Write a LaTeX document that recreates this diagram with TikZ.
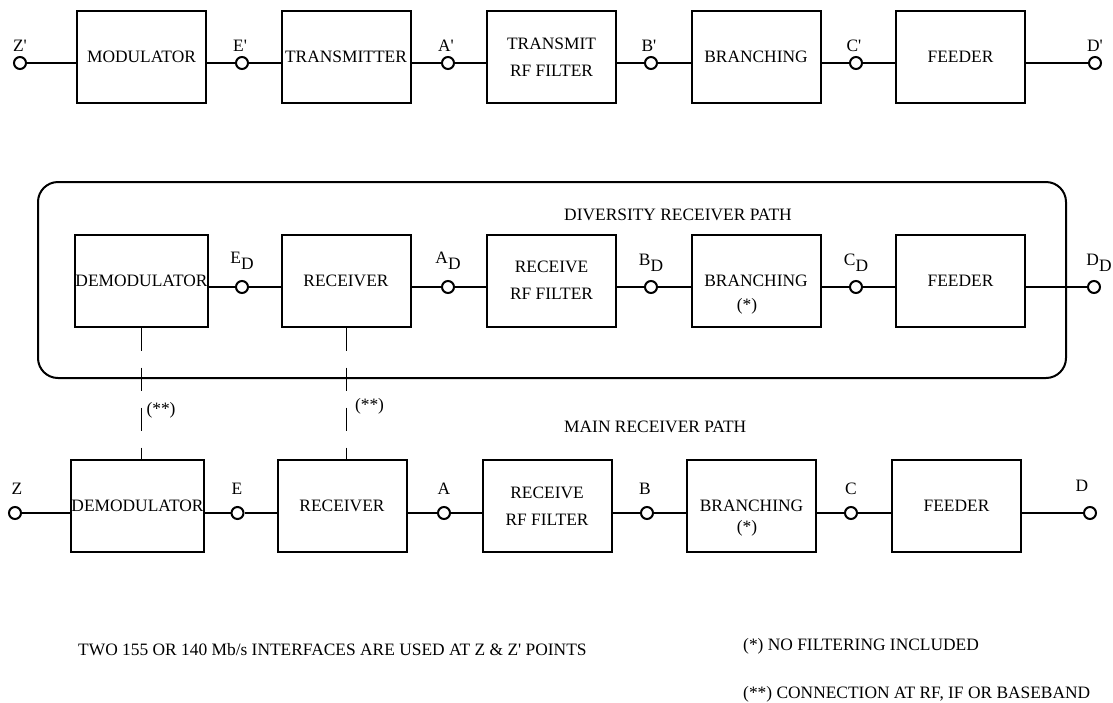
\documentclass[tikz,border=0pt]{standalone}
\usepackage{fontspec}
\setmainfont{Liberation Serif}
\newcommand{\pr}{\textquotesingle}
\newcommand{\subd}[1]{#1\raisebox{-6pt}{D}}
\tikzset{
  blk/.style={draw, line width=2pt, minimum width=129pt, minimum height=92pt, inner sep=0pt, align=center},
  term/.style={circle, draw, line width=2pt, fill=white, minimum size=12pt, inner sep=0pt},
  wire/.style={line width=2pt},
  link/.style={line width=1pt, dash pattern=on 23.5pt off 16.5pt},
}
\begin{document}
\begin{tikzpicture}[x=1pt, y=-1pt, every node/.style={inner sep=0pt, font=\fontsize{17.4}{27}\selectfont}]
\useasboundingbox (0,0) rectangle (1113,702);

% transmit path
\node[blk] (mod) at (141.5,57) {MODULATOR};
\node[blk] (tx) at (346,57) {TRANSMITTER};
\node[blk] (txf) at (551.5,57) {TRANSMIT\\RF FILTER};
\node[blk] (brt) at (756,57) {BRANCHING};
\node[blk] (fdt) at (960.5,57) {FEEDER};

\node[term] (zp) at (20,63) {};
\node[term] (ep) at (242,63) {};
\node[term] (ap) at (448,63) {};
\node[term] (bp) at (651,63) {};
\node[term] (cp) at (856,63) {};
\node[term] (dp) at (1095,63) {};

\node[anchor=base] (zpl) at (20,51) {Z\pr};
\node[anchor=base] (epl) at (240,51) {E\pr};
\node[anchor=base] (apl) at (446,51) {A\pr};
\node[anchor=base] (bpl) at (649,51) {B\pr};
\node[anchor=base] (cpl) at (854,51) {C\pr};
\node[anchor=base] (dpl) at (1095,51) {D\pr};

\draw[wire] (zp) -- (zp -| mod.west);
\draw[wire] (ep -| mod.east) -- (ep);
\draw[wire] (ep) -- (ep -| tx.west);
\draw[wire] (ap -| tx.east) -- (ap);
\draw[wire] (ap) -- (ap -| txf.west);
\draw[wire] (bp -| txf.east) -- (bp);
\draw[wire] (bp) -- (bp -| brt.west);
\draw[wire] (cp -| brt.east) -- (cp);
\draw[wire] (cp) -- (cp -| fdt.west);
\draw[wire] (dp -| fdt.east) -- (dp);

% diversity receiver path
\node[draw, line width=2pt, rounded corners=20pt, minimum width=1028pt, minimum height=196pt] (divbox) at (552,280) {};
\node[anchor=west] (divt) at (564,215) {DIVERSITY RECEIVER PATH};

\node[blk] (dm2) at (141.5,280.5) {DEMODULATOR};
\node[blk] (rx2) at (346,280.5) {RECEIVER};
\node[blk] (rxf2) at (551.5,280.5) {RECEIVE\\RF FILTER};
\node[blk] (br2) at (756,280.5) {BRANCHING};
\node (ast2) at (747,306) {(*)};
\node[blk] (fd2) at (960.5,280.5) {FEEDER};

\node[term] (e2) at (242,287) {};
\node[term] (a2) at (448,287) {};
\node[term] (b2) at (651,287) {};
\node[term] (c2) at (856,287) {};
\node[term] (d2) at (1094,287) {};

\node[anchor=base] (e2l) at (242,263) {\subd{E}};
\node[anchor=base] (a2l) at (448,263) {\subd{A}};
\node[anchor=base] (b2l) at (651,265) {\subd{B}};
\node[anchor=base] (c2l) at (856,265) {\subd{C}};
\node[anchor=base] (d2l) at (1099,265) {\subd{D}};

\draw[wire] (e2 -| dm2.east) -- (e2);
\draw[wire] (e2) -- (e2 -| rx2.west);
\draw[wire] (a2 -| rx2.east) -- (a2);
\draw[wire] (a2) -- (a2 -| rxf2.west);
\draw[wire] (b2 -| rxf2.east) -- (b2);
\draw[wire] (b2) -- (b2 -| br2.west);
\draw[wire] (c2 -| br2.east) -- (c2);
\draw[wire] (c2) -- (c2 -| fd2.west);
\draw[wire] (d2 -| fd2.east) -- (d2);

% main receiver path
\node[anchor=west] (maint) at (564,427) {MAIN RECEIVER PATH};

\node[blk] (dm3) at (137.5,506) {DEMODULATOR};
\node[blk] (rx3) at (342,506) {RECEIVER};
\node[blk] (rxf3) at (547,506) {RECEIVE\\RF FILTER};
\node[blk] (br3) at (751.5,506) {BRANCHING};
\node (ast3) at (747,528) {(*)};
\node[blk] (fd3) at (956.5,506) {FEEDER};

\node[term] (z3) at (15,513) {};
\node[term] (e3) at (237.5,513) {};
\node[term] (a3) at (444,513) {};
\node[term] (b3) at (647,513) {};
\node[term] (c3) at (851,513) {};
\node[term] (d3) at (1090,513) {};

\node[anchor=base] (z3l) at (17,494) {Z};
\node[anchor=base] (e3l) at (237,494) {E};
\node[anchor=base] (a3l) at (444,494) {A};
\node[anchor=base] (b3l) at (645,494) {B};
\node[anchor=base] (c3l) at (851,494) {C};
\node[anchor=base] (d3l) at (1082,491) {D};

\draw[wire] (z3) -- (z3 -| dm3.west);
\draw[wire] (e3 -| dm3.east) -- (e3);
\draw[wire] (e3) -- (e3 -| rx3.west);
\draw[wire] (a3 -| rx3.east) -- (a3);
\draw[wire] (a3) -- (a3 -| rxf3.west);
\draw[wire] (b3 -| rxf3.east) -- (b3);
\draw[wire] (b3) -- (b3 -| br3.west);
\draw[wire] (c3 -| br3.east) -- (c3);
\draw[wire] (c3) -- (c3 -| fd3.west);
\draw[wire] (d3 -| fd3.east) -- (d3);

% diversity links
\draw[link] (dm2.south) -- (dm2.south |- dm3.north);
\draw[link] (rx2.south) -- (rx2.south |- rx3.north);
\node (lk1) at (161,410) {(**)};
\node (lk2) at (369.5,406) {(**)};

% notes
\node[anchor=base west] (note1) at (78,655) {TWO 155 OR 140 Mb/s INTERFACES ARE USED AT Z \& Z\pr{} POINTS};
\node[anchor=base west] (note2) at (743,650) {(*) NO FILTERING INCLUDED};
\node[anchor=base west] (note3) at (743,698) {(**) CONNECTION AT RF, IF OR BASEBAND};

\end{tikzpicture}
\end{document}
